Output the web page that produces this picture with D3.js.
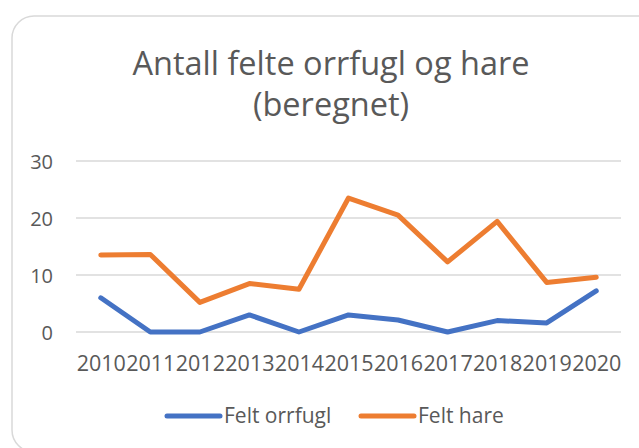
<!DOCTYPE html>
<html>
<head>
<meta charset="utf-8">
<script src="https://cdn.jsdelivr.net/npm/d3@7"></script>
<style>
  body { margin: 0; background: #fff; }
  svg { display: block; }
</style>
</head>
<body>
<div id="chart"></div>
<script>
const FONT = "'Open Sans', 'Noto Sans', sans-serif";
const COLOR_TEXT = "#595959";
const COLOR_GRID = "#d9d9d9";

const years = ["2010", "2011", "2012", "2013", "2014", "2015", "2016", "2017", "2018", "2019", "2020"];
const orrfugl = [6, 0, 0, 3, 0, 3, 2.1, 0, 2, 1.6, 7.2];
const hare = [13.5, 13.6, 5.2, 8.5, 7.5, 23.5, 20.5, 12.3, 19.4, 8.7, 9.6];
const yTicks = [0, 10, 20, 30];
const seriesNames = ["Felt orrfugl", "Felt hare"];
const seriesColors = ["#4472C4", "#ED7D31"];

const width = 639, height = 448;
const plot = { left: 76, right: 621, top: 161, bottom: 332 };

const svg = d3.select("#chart").append("svg")
    .attr("width", width)
    .attr("height", height)
    .attr("font-family", FONT);

// chart frame
svg.append("rect")
    .attr("x", 12).attr("y", 16)
    .attr("width", 650).attr("height", 436)
    .attr("rx", 22).attr("ry", 22)
    .attr("fill", "#fff")
    .attr("stroke", COLOR_GRID)
    .attr("stroke-width", 1.5);

// title
const title = svg.append("text")
    .attr("text-anchor", "middle")
    .attr("fill", COLOR_TEXT)
    .attr("font-size", "32.5px");
title.append("tspan").attr("x", 331).attr("y", 75).text("Antall felte orrfugl og hare");
title.append("tspan").attr("x", 331).attr("y", 116).text("(beregnet)");

const x = d3.scalePoint().domain(years).range([plot.left, plot.right]).padding(0.5);
const y = d3.scaleLinear().domain([0, 30]).range([plot.bottom, plot.top]);

// grid
svg.append("g").selectAll("line")
    .data(yTicks).enter().append("line")
    .attr("x1", plot.left).attr("x2", plot.right)
    .attr("y1", d => y(d)).attr("y2", d => y(d))
    .attr("stroke", COLOR_GRID)
    .attr("stroke-width", 1.5);

// y axis labels
svg.append("g")
    .attr("transform", "translate(53,0)")
    .call(d3.axisLeft(y).tickValues(yTicks).tickSize(0).tickPadding(0))
    .call(g => {
        g.select(".domain").remove();
        g.selectAll("text")
            .attr("fill", COLOR_TEXT)
            .attr("font-size", "20px")
            .attr("font-family", FONT)
            .attr("dy", "0.35em");
    });

// x axis labels
svg.append("g")
    .attr("transform", "translate(0," + plot.bottom + ")")
    .call(d3.axisBottom(x).tickSize(0).tickPadding(0))
    .call(g => {
        g.select(".domain").remove();
        g.selectAll("text")
            .attr("fill", COLOR_TEXT)
            .attr("font-size", "21.5px")
            .attr("font-family", FONT)
            .attr("y", 39)
            .attr("dy", 0);
    });

// lines
const line = d3.line()
    .x((d, i) => x(years[i]))
    .y(d => y(d));

[orrfugl, hare].forEach((vals, i) => {
    svg.append("path")
        .datum(vals)
        .attr("d", line)
        .attr("fill", "none")
        .attr("stroke", seriesColors[i])
        .attr("stroke-width", 5)
        .attr("stroke-linecap", "round")
        .attr("stroke-linejoin", "round");
});

// legend
const legendX = [167, 361];
const legend = svg.append("g");
seriesNames.forEach((name, i) => {
    legend.append("line")
        .attr("x1", legendX[i]).attr("x2", legendX[i] + 53)
        .attr("y1", 416).attr("y2", 416)
        .attr("stroke", seriesColors[i])
        .attr("stroke-width", 5)
        .attr("stroke-linecap", "round");
    legend.append("text")
        .attr("x", legendX[i] + 57)
        .attr("y", 423)
        .attr("fill", COLOR_TEXT)
        .attr("font-size", "21px")
        .text(name);
});
</script>
</body>
</html>
